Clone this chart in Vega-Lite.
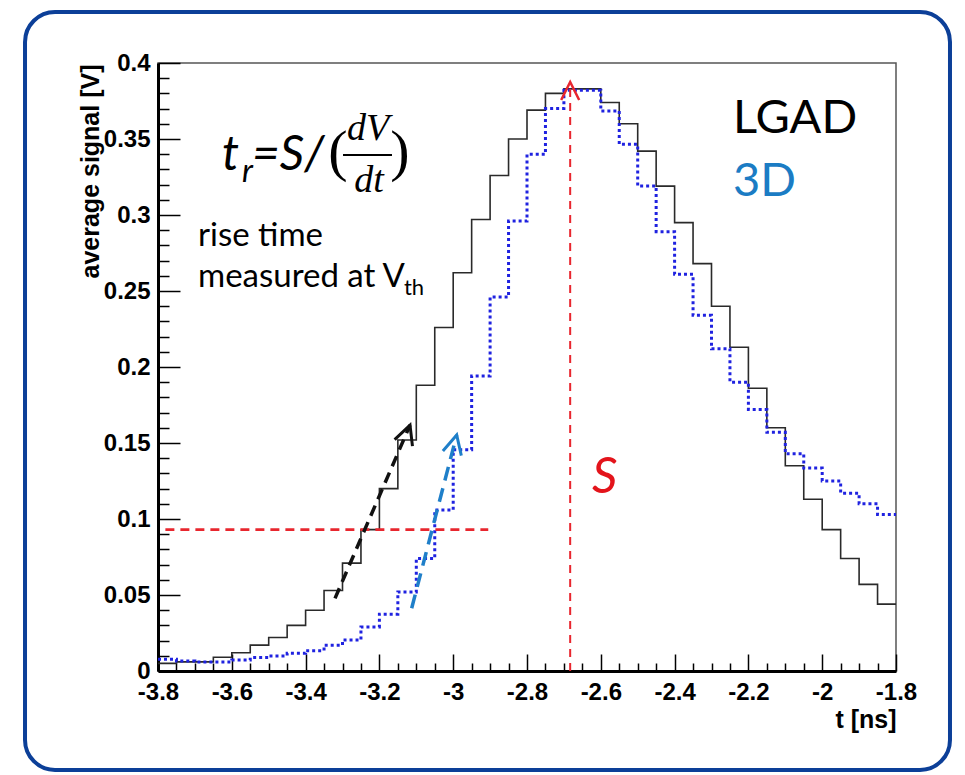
{
  "$schema": "https://vega.github.io/schema/vega-lite/v6.json",
  "width": 738,
  "height": 608,
  "autosize": {"type": "none"},
  "padding": {"left": 158, "top": 63, "right": 69, "bottom": 104},
  "background": "white",
  "config": {"view": {"stroke": "#555555", "strokeWidth": 1.5}, "axis": {"labelOverlap": false, "labelFlush": false}},
  "data": {"values": [{}]},
  "datasets": {
    "lgad": [
      {"t": -3.8, "v": 0.005}, {"t": -3.75, "v": 0.006}, {"t": -3.7, "v": 0.006}, {"t": -3.65, "v": 0.009},
      {"t": -3.6, "v": 0.012}, {"t": -3.55, "v": 0.017}, {"t": -3.5, "v": 0.022}, {"t": -3.45, "v": 0.030},
      {"t": -3.4, "v": 0.040}, {"t": -3.35, "v": 0.053}, {"t": -3.3, "v": 0.071}, {"t": -3.25, "v": 0.093},
      {"t": -3.2, "v": 0.120}, {"t": -3.15, "v": 0.152}, {"t": -3.1, "v": 0.188}, {"t": -3.05, "v": 0.226},
      {"t": -3.0, "v": 0.262}, {"t": -2.95, "v": 0.297}, {"t": -2.9, "v": 0.326}, {"t": -2.85, "v": 0.350},
      {"t": -2.8, "v": 0.369}, {"t": -2.75, "v": 0.380}, {"t": -2.7, "v": 0.383}, {"t": -2.65, "v": 0.383},
      {"t": -2.6, "v": 0.374}, {"t": -2.55, "v": 0.360}, {"t": -2.5, "v": 0.342}, {"t": -2.45, "v": 0.319},
      {"t": -2.4, "v": 0.295}, {"t": -2.35, "v": 0.268}, {"t": -2.3, "v": 0.240}, {"t": -2.25, "v": 0.213},
      {"t": -2.2, "v": 0.186}, {"t": -2.15, "v": 0.160}, {"t": -2.1, "v": 0.135}, {"t": -2.05, "v": 0.113},
      {"t": -2.0, "v": 0.093}, {"t": -1.95, "v": 0.074}, {"t": -1.9, "v": 0.057}, {"t": -1.85, "v": 0.044},
      {"t": -1.8, "v": 0.044}
    ],
    "d3": [
      {"t": -3.8, "v": 0.0077}, {"t": -3.75, "v": 0.0066}, {"t": -3.7, "v": 0.006}, {"t": -3.65, "v": 0.006},
      {"t": -3.6, "v": 0.0072}, {"t": -3.55, "v": 0.0088}, {"t": -3.5, "v": 0.0099}, {"t": -3.45, "v": 0.0116},
      {"t": -3.4, "v": 0.0134}, {"t": -3.35, "v": 0.017}, {"t": -3.3, "v": 0.0204}, {"t": -3.25, "v": 0.029},
      {"t": -3.2, "v": 0.0374}, {"t": -3.15, "v": 0.052}, {"t": -3.1, "v": 0.074}, {"t": -3.05, "v": 0.106},
      {"t": -3.0, "v": 0.1456}, {"t": -2.95, "v": 0.194}, {"t": -2.9, "v": 0.246}, {"t": -2.85, "v": 0.296},
      {"t": -2.8, "v": 0.340}, {"t": -2.75, "v": 0.370}, {"t": -2.7, "v": 0.382}, {"t": -2.65, "v": 0.382},
      {"t": -2.6, "v": 0.3685}, {"t": -2.55, "v": 0.3465}, {"t": -2.5, "v": 0.319}, {"t": -2.45, "v": 0.289},
      {"t": -2.4, "v": 0.261}, {"t": -2.35, "v": 0.234}, {"t": -2.3, "v": 0.212}, {"t": -2.25, "v": 0.190},
      {"t": -2.2, "v": 0.172}, {"t": -2.15, "v": 0.157}, {"t": -2.1, "v": 0.143}, {"t": -2.05, "v": 0.1335},
      {"t": -2.0, "v": 0.125}, {"t": -1.95, "v": 0.117}, {"t": -1.9, "v": 0.110}, {"t": -1.85, "v": 0.103},
      {"t": -1.8, "v": 0.103}
    ]
  },
  "layer": [
    {
      "data": {"name": "lgad"},
      "mark": {"type": "line", "interpolate": "step-after", "color": "#2a2a2a", "strokeWidth": 1.6},
      "encoding": {
        "x": {
          "field": "t", "type": "quantitative",
          "scale": {"domain": [-3.8, -1.8], "nice": false, "zero": false},
          "axis": {
            "values": [-3.8, -3.75, -3.7, -3.65, -3.6, -3.55, -3.5, -3.45, -3.4, -3.35, -3.3, -3.25, -3.2, -3.15, -3.1, -3.05, -3.0, -2.95, -2.9, -2.85, -2.8, -2.75, -2.7, -2.65, -2.6, -2.55, -2.5, -2.45, -2.4, -2.35, -2.3, -2.25, -2.2, -2.15, -2.1, -2.05, -2.0, -1.95, -1.9, -1.85, -1.8],
            "tickCount": 200,
            "title": "t [ns]",
            "titleFont": "Liberation Sans", "titleFontWeight": "bold", "titleFontSize": 25, "titleColor": "black",
            "titleAnchor": "end", "titleAlign": "right", "titleX": 738, "titleY": 56, "titleBaseline": "alphabetic",
            "labelFont": "Liberation Sans", "labelFontWeight": "bold", "labelFontSize": 24, "labelColor": "black",
            "labelExpr": "abs(datum.value*5 - round(datum.value*5)) < 0.001 ? '' + datum.value : ''",
            "labelOverlap": false, "labelFlush": false, "labelPadding": 26, "labelBaseline": "top",
            "tickSize": {"condition": {"test": "abs(datum.value*5 - round(datum.value*5)) < 0.001", "value": -17}, "value": -8},
            "tickColor": "black", "tickWidth": 1.5,
            "domainColor": "black", "domainWidth": 3, "grid": false
          }
        },
        "y": {
          "field": "v", "type": "quantitative",
          "scale": {"domain": [0, 0.4], "nice": false, "zero": false},
          "axis": {
            "values": [0, 0.01, 0.02, 0.03, 0.04, 0.05, 0.06, 0.07, 0.08, 0.09, 0.1, 0.11, 0.12, 0.13, 0.14, 0.15, 0.16, 0.17, 0.18, 0.19, 0.2, 0.21, 0.22, 0.23, 0.24, 0.25, 0.26, 0.27, 0.28, 0.29, 0.3, 0.31, 0.32, 0.33, 0.34, 0.35, 0.36, 0.37, 0.38, 0.39, 0.4],
            "tickCount": 200,
            "title": "average signal [V]",
            "titleFont": "Liberation Sans", "titleFontWeight": "bold", "titleFontSize": 25, "titleColor": "black",
            "titleAnchor": "end", "titleAngle": 270, "titleAlign": "right", "titleBaseline": "bottom", "titleX": -55, "titleY": 1,
            "labelFont": "Liberation Sans", "labelFontWeight": "bold", "labelFontSize": 24, "labelColor": "black",
            "labelExpr": "abs(datum.value*20 - round(datum.value*20)) < 0.001 ? '' + datum.value : ''",
            "labelOverlap": false, "labelFlush": false, "labelPadding": 30,
            "tickSize": {"condition": {"test": "abs(datum.value*20 - round(datum.value*20)) < 0.001", "value": -22}, "value": -11},
            "tickColor": "black", "tickWidth": 1.5,
            "domainColor": "black", "domainWidth": 3, "grid": false
          }
        }
      }
    },
    {
      "data": {"name": "d3"},
      "mark": {"type": "line", "interpolate": "step-after", "color": "#1f22e0", "strokeWidth": 3, "strokeDash": [3, 3]},
      "encoding": {
        "x": {"field": "t", "type": "quantitative"},
        "y": {"field": "v", "type": "quantitative"}
      }
    },
    {
      "mark": {"type": "rect", "fillOpacity": 0, "stroke": "#0c3f98", "strokeWidth": 4, "cornerRadius": 30},
      "encoding": {
        "x": {"datum": -4.1604, "type": "quantitative"},
        "x2": {"datum": -1.6537},
        "y": {"datum": 0.4336, "type": "quantitative"},
        "y2": {"datum": -0.0651}
      }
    },
    {
      "mark": {"type": "rule", "color": "#e8262e", "strokeWidth": 2.6, "strokeDash": [9, 6]},
      "encoding": {
        "x": {"datum": -3.78, "type": "quantitative"},
        "x2": {"datum": -2.905},
        "y": {"datum": 0.093, "type": "quantitative"}
      }
    },
    {
      "mark": {"type": "rule", "color": "#e8262e", "strokeWidth": 2, "strokeDash": [8, 6]},
      "encoding": {
        "x": {"datum": -2.683, "type": "quantitative"},
        "y": {"datum": 0, "type": "quantitative"},
        "y2": {"datum": 0.386}
      }
    },
    {
      "mark": {"type": "point", "shape": "M-1,2L0,0L1,2", "filled": false, "stroke": "#e8262e", "strokeWidth": 2.5, "size": 324, "opacity": 1},
      "encoding": {
        "x": {"datum": -2.683, "type": "quantitative"},
        "y": {"datum": 0.3875, "type": "quantitative"}
      }
    },
    {
      "mark": {"type": "rule", "color": "#111111", "strokeWidth": 3.5, "strokeDash": [11, 7]},
      "encoding": {
        "x": {"datum": -3.3203, "type": "quantitative"},
        "y": {"datum": 0.0478, "type": "quantitative"},
        "x2": {"datum": -3.117},
        "y2": {"datum": 0.1618}
      }
    },
    {
      "mark": {"type": "point", "shape": "M-1,2L0,0L1,2", "filled": false, "stroke": "#111111", "strokeWidth": 3, "size": 361, "angle": 20, "opacity": 1},
      "encoding": {
        "x": {"datum": -3.117, "type": "quantitative"},
        "y": {"datum": 0.1618, "type": "quantitative"}
      }
    },
    {
      "mark": {"type": "rule", "color": "#1f7fc9", "strokeWidth": 3.5, "strokeDash": [14, 8]},
      "encoding": {
        "x": {"datum": -3.1125, "type": "quantitative"},
        "y": {"datum": 0.0413, "type": "quantitative"},
        "x2": {"datum": -2.9905},
        "y2": {"datum": 0.1553}
      }
    },
    {
      "mark": {"type": "point", "shape": "M-1,2L0,0L1,2", "filled": false, "stroke": "#1f7fc9", "strokeWidth": 3, "size": 361, "angle": 14, "opacity": 1},
      "encoding": {
        "x": {"datum": -2.9905, "type": "quantitative"},
        "y": {"datum": 0.1553, "type": "quantitative"}
      }
    },
    {
      "mark": {"type": "text", "text": "t", "font": "Lato", "fontStyle": "italic", "fontSize": 48, "align": "left", "baseline": "alphabetic", "color": "black"},
      "encoding": {"x": {"datum": -3.6266, "type": "quantitative"}, "y": {"datum": 0.3296, "type": "quantitative"}}
    },
    {
      "mark": {"type": "text", "text": "r", "font": "Lato", "fontStyle": "italic", "fontSize": 32, "align": "left", "baseline": "alphabetic", "color": "black"},
      "encoding": {"x": {"datum": -3.5724, "type": "quantitative"}, "y": {"datum": 0.3217, "type": "quantitative"}}
    },
    {
      "mark": {"type": "text", "text": "=S/", "font": "Lato", "fontStyle": "italic", "fontSize": 48, "align": "left", "baseline": "alphabetic", "color": "black"},
      "encoding": {"x": {"datum": -3.5453, "type": "quantitative"}, "y": {"datum": 0.3296, "type": "quantitative"}}
    },
    {
      "mark": {"type": "text", "text": "(", "font": "Liberation Serif", "fontSize": 58, "align": "center", "baseline": "alphabetic", "color": "black"},
      "encoding": {"x": {"datum": -3.3122, "type": "quantitative"}, "y": {"datum": 0.3296, "type": "quantitative"}}
    },
    {
      "mark": {"type": "text", "text": "dV", "font": "Liberation Serif", "fontStyle": "italic", "fontSize": 38, "align": "center", "baseline": "alphabetic", "color": "black"},
      "encoding": {"x": {"datum": -3.2309, "type": "quantitative"}, "y": {"datum": 0.3493, "type": "quantitative"}}
    },
    {
      "mark": {"type": "rule", "color": "black", "strokeWidth": 2},
      "encoding": {
        "x": {"datum": -3.2986, "type": "quantitative"},
        "x2": {"datum": -3.1659},
        "y": {"datum": 0.3395, "type": "quantitative"}
      }
    },
    {
      "mark": {"type": "text", "text": "dt", "font": "Liberation Serif", "fontStyle": "italic", "fontSize": 38, "align": "center", "baseline": "alphabetic", "color": "black"},
      "encoding": {"x": {"datum": -3.2282, "type": "quantitative"}, "y": {"datum": 0.3151, "type": "quantitative"}}
    },
    {
      "mark": {"type": "text", "text": ")", "font": "Liberation Serif", "fontSize": 58, "align": "center", "baseline": "alphabetic", "color": "black"},
      "encoding": {"x": {"datum": -3.1442, "type": "quantitative"}, "y": {"datum": 0.3296, "type": "quantitative"}}
    },
    {
      "mark": {"type": "text", "text": "rise time", "font": "Lato", "fontSize": 33, "align": "left", "baseline": "alphabetic", "color": "black"},
      "encoding": {"x": {"datum": -3.6916, "type": "quantitative"}, "y": {"datum": 0.2796, "type": "quantitative"}}
    },
    {
      "mark": {"type": "text", "text": "measured at V", "font": "Lato", "fontSize": 33, "align": "left", "baseline": "alphabetic", "color": "black"},
      "encoding": {"x": {"datum": -3.6916, "type": "quantitative"}, "y": {"datum": 0.2528, "type": "quantitative"}}
    },
    {
      "mark": {"type": "text", "text": "th", "font": "Lato", "fontSize": 22, "align": "left", "baseline": "alphabetic", "color": "black"},
      "encoding": {"x": {"datum": -3.1334, "type": "quantitative"}, "y": {"datum": 0.2475, "type": "quantitative"}}
    },
    {
      "mark": {"type": "text", "text": "LGAD", "font": "Lato", "fontSize": 47, "align": "left", "baseline": "alphabetic", "color": "black"},
      "encoding": {"x": {"datum": -2.2417, "type": "quantitative"}, "y": {"datum": 0.354, "type": "quantitative"}}
    },
    {
      "mark": {"type": "text", "text": "3D", "font": "Lato", "fontSize": 47, "align": "left", "baseline": "alphabetic", "color": "#1b7cc4"},
      "encoding": {"x": {"datum": -2.2417, "type": "quantitative"}, "y": {"datum": 0.3125, "type": "quantitative"}}
    },
    {
      "mark": {"type": "text", "text": "S", "font": "Lato", "fontStyle": "italic", "fontSize": 50, "align": "left", "baseline": "alphabetic", "color": "#e3141b"},
      "encoding": {"x": {"datum": -2.6238, "type": "quantitative"}, "y": {"datum": 0.1171, "type": "quantitative"}}
    }
  ]
}
